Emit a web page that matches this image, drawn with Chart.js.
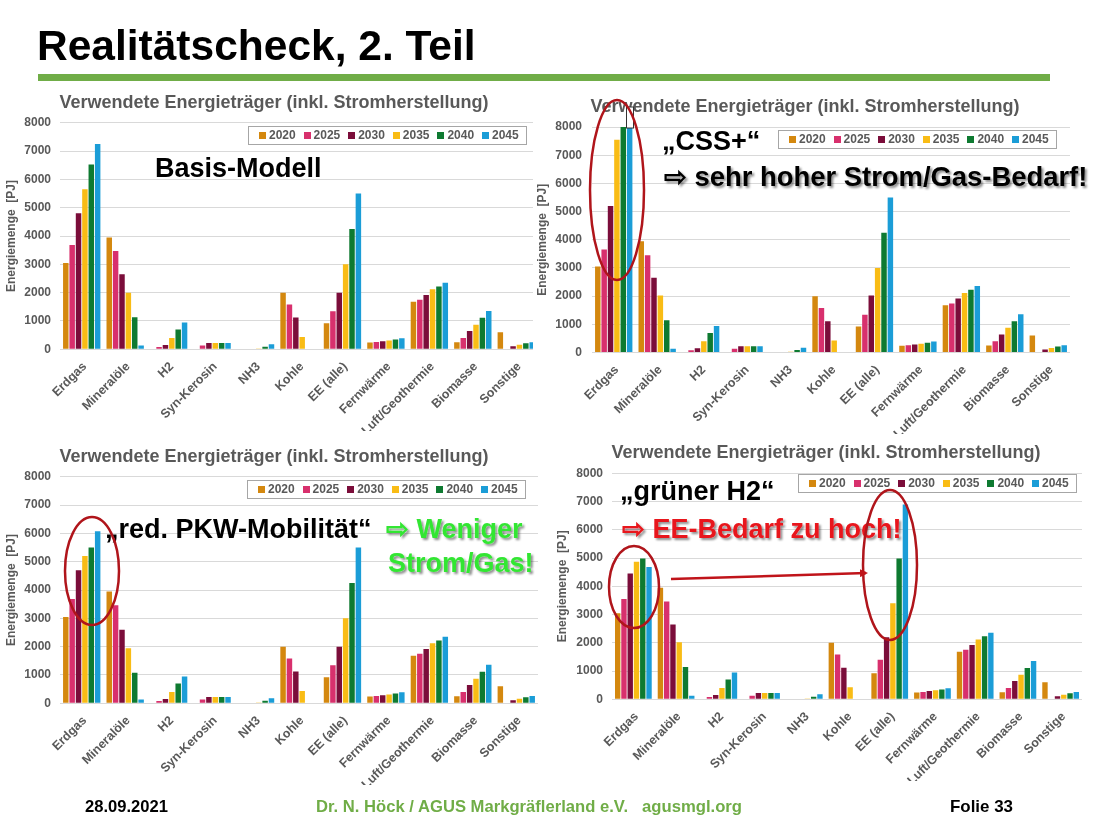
<!DOCTYPE html>
<html><head><meta charset="utf-8">
<script src="https://cdn.jsdelivr.net/npm/chart.js@4.4.0/dist/chart.umd.min.js"></script>
<style>
html,body{margin:0;padding:0;}
body{width:1100px;height:825px;background:#fff;position:relative;overflow:hidden;font-family:"Liberation Sans",Arial,sans-serif;}
.box{position:absolute;overflow:hidden;}
.box canvas{position:absolute;left:0;top:0;}
#ov{position:absolute;left:0;top:0;width:1100px;height:825px;pointer-events:none;}
</style></head>
<body>
<div class="box" id="b1" style="left:0px;top:86px;width:533px;height:345px;"><canvas id="c1" width="548" height="345"></canvas></div>
<div class="box" id="b2" style="left:530px;top:88px;width:550px;height:346px;"><canvas id="c2" width="550" height="346"></canvas></div>
<div class="box" id="b3" style="left:0px;top:440px;width:548px;height:345px;"><canvas id="c3" width="548" height="345"></canvas></div>
<div class="box" id="b4" style="left:550px;top:432px;width:552px;height:349px;"><canvas id="c4" width="552" height="349"></canvas></div>

<svg id="ov" xmlns="http://www.w3.org/2000/svg" width="1100" height="825">
  <defs>
    <filter id="sh" x="-10%" y="-30%" width="130%" height="170%">
      <feDropShadow dx="2" dy="2" stdDeviation="1.2" flood-color="#000" flood-opacity="0.45"/>
    </filter>
    <marker id="ah" markerWidth="8" markerHeight="8" refX="6" refY="4" orient="auto" markerUnits="userSpaceOnUse">
      <path d="M0,0 L8,4 L0,8 z" fill="#C0141A"/>
    </marker>
  </defs>
  <text x="37" y="60" font-family="Liberation Sans, Arial, sans-serif" font-weight="bold" font-size="42.5" fill="#000">Realitätscheck, 2. Teil</text>
  <rect x="38" y="74" width="1012" height="7" fill="#70AD47"/>

  <g font-family="Liberation Sans, Arial, sans-serif" font-weight="bold" font-size="27">
    <text x="155" y="177" fill="#000">Basis-Modell</text>
    <text x="662" y="150" fill="#000">„CSS+“</text>
    <text x="664" y="186" fill="#000" filter="url(#sh)" font-size="27.4">⇨ sehr hoher Strom/Gas-Bedarf!</text>
    <text x="105" y="538" fill="#000">„red. PKW-Mobilität“</text>
    <text x="386" y="538" fill="#33E633" filter="url(#sh)">⇨ Weniger</text>
    <text x="388" y="572" fill="#33E633" filter="url(#sh)">Strom/Gas!</text>
    <text x="620" y="500" fill="#000">„grüner H2“</text>
    <text x="622" y="538" fill="#E8141B" filter="url(#sh)">⇨ EE-Bedarf zu hoch!</text>
  </g>

  <g fill="none" stroke="#B0151B" stroke-width="2.5">
    <ellipse cx="617" cy="190" rx="27" ry="90"/>
    <ellipse cx="92" cy="571" rx="27" ry="54"/>
    <ellipse cx="634" cy="587" rx="25" ry="41"/>
    <ellipse cx="890" cy="565" rx="27" ry="75"/>
  </g>
  <line x1="671" y1="579" x2="866" y2="573" stroke="#C0141A" stroke-width="2.5" marker-end="url(#ah)"/>

  <g font-family="Liberation Sans Narrow, Arial Narrow, Liberation Sans, sans-serif" font-weight="bold" font-size="17">
    <text x="85" y="812" fill="#000" textLength="83" lengthAdjust="spacingAndGlyphs">28.09.2021</text>
    <text x="316" y="812" fill="#70AD47" textLength="312" lengthAdjust="spacingAndGlyphs">Dr. N. Höck / AGUS Markgräflerland e.V.</text>
    <text x="642" y="812" fill="#70AD47" textLength="100" lengthAdjust="spacingAndGlyphs">agusmgl.org</text>
    <text x="950" y="812" fill="#000" textLength="63" lengthAdjust="spacingAndGlyphs">Folie 33</text>
  </g>
</svg>

<script>
// ---------------- data ----------------
const categories = ['Erdgas','Mineralöle','H2','Syn-Kerosin','NH3','Kohle','EE (alle)','Fernwärme','Luft/Geothermie','Biomasse','Sonstige'];
const years = ['2020','2025','2030','2035','2040','2045'];
const yTicks = [0,1000,2000,3000,4000,5000,6000,7000,8000];
const chartTitle = 'Verwendete Energieträger (inkl. Stromherstellung)';
const yAxisTitle = 'Energiemenge  [PJ]';

// Basis-Modell
const basis2020 = [3050,3950,0,0,0,2000,920,240,1680,250,600];
const basis2025 = [3680,3470,80,130,0,1580,1340,260,1750,400,20];
const basis2030 = [4800,2650,150,220,0,1120,2000,280,1920,650,110];
const basis2035 = [5650,2000,400,220,30,430,3000,310,2120,870,160];
const basis2040 = [6520,1130,700,220,90,0,4250,350,2220,1110,210];
const basis2045 = [7250,130,950,220,180,0,5500,390,2350,1350,250];

// CSS+
const css2020 = [3050,3950,0,0,0,2000,920,240,1680,250,600];
const css2025 = [3650,3450,80,130,0,1580,1340,260,1740,400,20];
const css2030 = [5200,2650,150,220,0,1110,2020,280,1920,640,110];
const css2035 = [7550,2020,400,220,30,430,3000,310,2110,880,160];
const css2040 = [8000,1140,690,220,90,0,4250,350,2230,1110,210];
const css2045 = [8000,130,940,220,170,0,5500,390,2360,1360,260];

// red. PKW-Mobilität
const pkw2020 = [3050,3950,0,0,0,2000,920,240,1680,250,600];
const pkw2025 = [3680,3460,80,130,0,1580,1340,260,1750,400,20];
const pkw2030 = [4700,2600,150,220,0,1120,2000,280,1920,650,110];
const pkw2035 = [5200,1940,400,220,30,430,3000,310,2120,870,160];
const pkw2040 = [5500,1080,700,220,90,0,4250,350,2220,1110,210];
const pkw2045 = [6070,130,950,220,180,0,5500,390,2350,1360,260];

// grüner H2
const h2g2020 = [3050,3950,0,0,0,2000,920,240,1680,250,600];
const h2g2025 = [3550,3460,80,130,0,1590,1400,260,1750,400,20];
const h2g2030 = [4450,2650,150,220,0,1120,2200,290,1920,650,110];
const h2g2035 = [4870,2020,400,220,30,430,3400,320,2120,870,160];
const h2g2040 = [4980,1140,700,220,90,0,4980,350,2230,1110,210];
const h2g2045 = [4680,130,950,220,180,0,6900,390,2360,1360,260];

// ---------------- styles ----------------
const yearColors = ['#D4880F','#D8306D','#7B0D3A','#F9BC15','#0E7A31','#1B9DD7'];
const FONT = '"Liberation Sans", Arial, sans-serif';
Chart.defaults.font.family = FONT;

const boxLegendPlugin = {
  id: 'boxLegend',
  afterDatasetsDraw(chart, args, opts) {
    const {ctx, chartArea} = chart;
    if (opts.marker) {
      const el = chart.getDatasetMeta(opts.marker.dataset).data[opts.marker.index];
      const mx = Math.round(el.x - 3.5) + 0.5;
      ctx.save();
      ctx.fillStyle = '#fff';
      ctx.fillRect(mx, chartArea.top - 20, 7, 21);
      ctx.strokeStyle = '#333';
      ctx.lineWidth = 1;
      ctx.strokeRect(mx, chartArea.top - 20, 7, 21);
      ctx.restore();
    }
    const w = 278, h = 18;
    const x0 = Math.round(chartArea.right - opts.rOff - w);
    const y0 = Math.round(chartArea.top + opts.tOff);
    ctx.save();
    ctx.fillStyle = '#fff';
    ctx.fillRect(x0, y0, w, h);
    ctx.strokeStyle = '#A6A6A6';
    ctx.lineWidth = 1;
    ctx.strokeRect(x0 + 0.5, y0 + 0.5, w, h);
    ctx.font = 'bold 12px ' + FONT;
    ctx.textBaseline = 'middle';
    ctx.textAlign = 'left';
    chart.data.datasets.forEach((ds, i) => {
      const x = x0 + 11 + i * 44.6;
      const cy = y0 + h / 2 + 0.5;
      ctx.fillStyle = ds.backgroundColor;
      ctx.fillRect(Math.round(x), Math.round(cy - 3.5), 7, 7);
      ctx.fillStyle = '#595959';
      ctx.fillText(ds.label, x + 10, cy + 0.5);
    });
    ctx.restore();
  }
};

function makeChart(id, series, geo) {
  return new Chart(document.getElementById(id), {
    type: 'bar',
    data: {
      labels: categories,
      datasets: years.map((y, i) => ({
        label: y,
        data: series[i],
        backgroundColor: yearColors[i],
        borderWidth: 0,
        categoryPercentage: 0.88,
        barPercentage: 0.86
      }))
    },
    options: {
      responsive: false,
      animation: false,
      devicePixelRatio: 1,
      layout: {padding: {left: geo.padL, right: geo.padR, top: 0, bottom: 0}},
      plugins: {
        legend: {display: false},
        tooltip: {enabled: false},
        title: {
          display: true, text: chartTitle, color: '#595959',
          font: {size: 18, weight: 'bold'},
          padding: {top: geo.tp, bottom: geo.tb}
        },
        boxLegend: {rOff: geo.lr, tOff: geo.lt, marker: geo.marker}
      },
      scales: {
        x: {
          grid: {display: false},
          border: {display: false},
          ticks: {autoSkip: false, maxRotation: 45, minRotation: 45, color: '#595959',
                  font: {size: 12.5, weight: 'bold'}, padding: 2, labelOffset: 3},
          afterFit: s => { s.height = geo.xh; }
        },
        y: {
          min: 0, max: 8000,
          afterBuildTicks: s => { s.ticks = yTicks.map(v => ({value: v})); },
          grid: {color: '#D9D9D9', drawTicks: false, lineWidth: 1},
          border: {display: false},
          ticks: {color: '#595959', font: {size: 12, weight: 'bold'}, padding: geo.yp,
                  callback: v => String(v)},
          title: {display: true, text: yAxisTitle, color: '#595959',
                  font: {size: 12, weight: 'bold'}, padding: {top: geo.ytp, bottom: 0}},
          afterFit: s => { s.width = geo.yw; }
        }
      }
    },
    plugins: [boxLegendPlugin]
  });
}

makeChart('c1', [basis2020, basis2025, basis2030, basis2035, basis2040, basis2045],
  {padL: 10, padR: 10, tp: 5.9, tb: 9.2, xh: 81.7, yw: 50, yp: 9, ytp: -5.2, lr: 12, lt: 3.3});
makeChart('c2', [css2020, css2025, css2030, css2035, css2040, css2045],
  {padL: 10, padR: 10, tp: 7.9, tb: 9.5, xh: 81.5, yw: 52, yp: 10, ytp: -4.2, lr: 14, lt: 3, marker: {dataset: 5, index: 0}});
makeChart('c3', [pkw2020, pkw2025, pkw2030, pkw2035, pkw2040, pkw2045],
  {padL: 10, padR: 10, tp: 5.9, tb: 9.2, xh: 81.7, yw: 50, yp: 9, ytp: -5.2, lr: 13, lt: 3.3});
makeChart('c4', [h2g2020, h2g2025, h2g2030, h2g2035, h2g2040, h2g2045],
  {padL: 20, padR: 20, tp: 10.5, tb: 9.2, xh: 81.7, yw: 42, yp: 9, ytp: -14.2, lr: 6, lt: 1});
</script>
</body></html>
